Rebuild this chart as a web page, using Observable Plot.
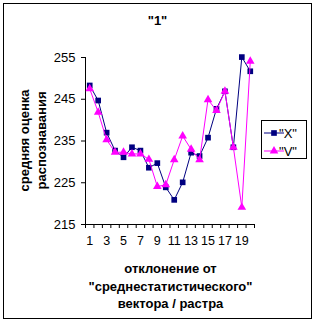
<!DOCTYPE html>
<html>
<head>
<meta charset="utf-8">
<script src="https://cdn.jsdelivr.net/npm/d3@7"></script>
<script src="https://cdn.jsdelivr.net/npm/@observablehq/plot@0.6"></script>
<style>
  html, body { margin: 0; padding: 0; background: #fff; }
  #chart { position: relative; width: 315px; height: 323px; }
  svg { font-family: "Liberation Sans", Arial, sans-serif; }
</style>
</head>
<body>
<div id="chart"></div>
<script>
const categories = d3.range(1, 21);
const seriesNames = ['"X"', '"V"'];
const valuesX = [248.3, 244.7, 237.0, 232.7, 231.1, 233.5, 232.7, 228.6, 229.7, 223.9,
                 220.9, 225.1, 232.2, 231.4, 235.8, 242.7, 246.9, 233.5, 255.1, 251.7];
const valuesV = [247.5, 241.9, 235.3, 232.3, 232.3, 231.9, 231.9, 230.6, 224.1, 224.5,
                 230.5, 236.2, 233.0, 230.5, 244.9, 242.3, 246.9, 233.5, 219.1, 254.1];
const yTicks = [215, 225, 235, 245, 255];
const xTickLabels = [1, 3, 5, 7, 9, 11, 13, 15, 17, 19];
const titleText = '"1"';
const yTitle = "средняя оценка\nраспознавания";
const xTitle = 'отклонение от\n"среднестатистического"\nвектора / растра';

const colors = ["#000080", "#ff00ff"];
const dataX = categories.map((c, i) => ({c, v: valuesX[i]}));
const dataV = categories.map((c, i) => ({c, v: valuesV[i]}));

const W = 315, H = 323;
const mL = 85, mR = 61, mT = 57, mB = 99;

const plot = Plot.plot({
  width: W, height: H,
  marginLeft: mL, marginRight: mR, marginTop: mT, marginBottom: mB,
  style: {fontFamily: '"Liberation Sans", Arial, sans-serif', fontSize: "12px", color: "#000", background: "transparent"},
  x: {type: "linear", domain: [0.5, 20.5]},
  y: {domain: [215, 255]},
  marks: [
    Plot.axisY({ticks: yTicks, tickSize: 4, tickPadding: 6, label: null, fontSize: 13}),
    Plot.axisX({ticks: d3.range(0.5, 21, 1), tickSize: 4, tickFormat: () => "", label: null}),
    Plot.axisX({ticks: xTickLabels, tickSize: 0, tickPadding: 12, label: null, fontSize: 12.5}),
    Plot.ruleX([0.5], {stroke: "#000"}),
    Plot.ruleY([215], {stroke: "#000"}),
    Plot.line(dataX, {x: "c", y: "v", stroke: colors[0], strokeWidth: 1}),
    Plot.dot(dataX, {x: "c", y: "v", symbol: "square", r: 3.2, fill: colors[0], stroke: "none"}),
    Plot.line(dataV, {x: "c", y: "v", stroke: colors[1], strokeWidth: 1}),
    Plot.dot(dataV, {x: "c", y: "v", symbol: "triangle", r: 3.2, fill: colors[1], stroke: "none"}),
    Plot.text([titleText], {frameAnchor: "top-left", textAnchor: "middle", dx: 157 - mL, dy: 20 - mT, fontWeight: "bold", fontSize: 13, lineAnchor: "middle"}),
    Plot.text([yTitle], {frameAnchor: "top-left", textAnchor: "middle", dx: 31.5 - mL, dy: 140 - mT, rotate: -90, fontWeight: "bold", fontSize: 13, lineAnchor: "middle", lineHeight: 1.3}),
    Plot.text([xTitle], {frameAnchor: "top-left", textAnchor: "middle", dx: 170 - mL, dy: 284.5 - mT, fontWeight: "bold", fontSize: 13, lineAnchor: "middle", lineHeight: 1.35})
  ]
});

const svg = d3.select(plot);
// outer chart border
svg.append("rect").attr("x", 3.5).attr("y", 3.5).attr("width", 308).attr("height", 315)
  .attr("fill", "none").attr("stroke", "#000").attr("stroke-width", 1);
// legend
const lg = svg.append("g").attr("font-size", 13);
lg.append("rect").attr("x", 261.5).attr("y", 120.5).attr("width", 45).attr("height", 38)
  .attr("fill", "#fff").attr("stroke", "#000");
const sym = [d3.symbolSquare, d3.symbolTriangle];
seriesNames.forEach((name, i) => {
  const y = 133 + i * 18;
  lg.append("line").attr("x1", 264).attr("x2", 284).attr("y1", y).attr("y2", y)
    .attr("stroke", colors[i]).attr("stroke-width", 1);
  lg.append("path").attr("d", d3.symbol(sym[i], Math.PI * 3.2 * 3.2)())
    .attr("transform", `translate(274,${y})`).attr("fill", colors[i]);
  lg.append("text").attr("x", 288).attr("y", y).attr("dy", "0.35em").text(name);
});

document.getElementById("chart").appendChild(plot);
</script>
</body>
</html>
